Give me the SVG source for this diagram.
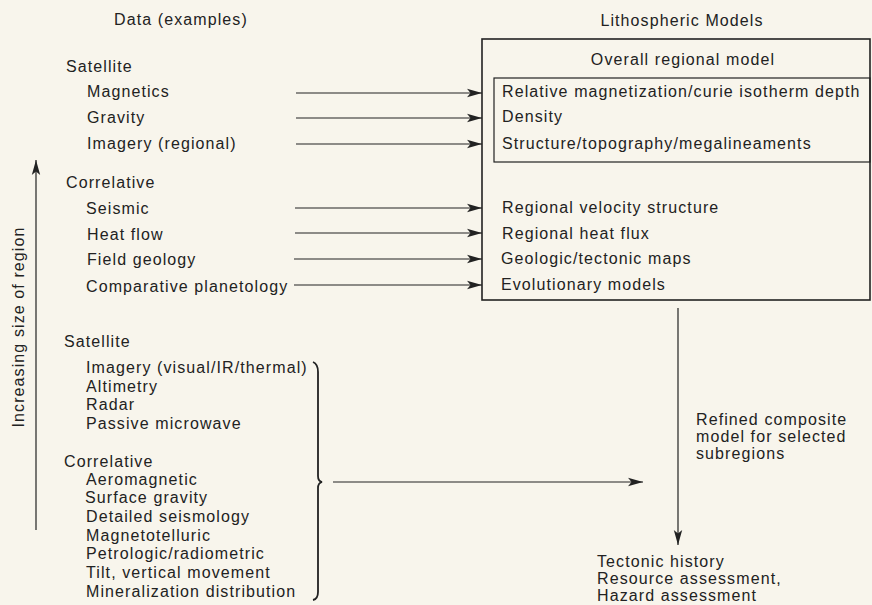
<svg xmlns="http://www.w3.org/2000/svg" width="872" height="605" viewBox="0 0 872 605">
<defs>
<style>
text{font-family:"Liberation Sans",Arial,sans-serif;font-size:16px;fill:#222;letter-spacing:1.1px}
.ln{stroke:#222;stroke-width:1.2;fill:none}
.box{stroke:#222;stroke-width:1.6;fill:none}
</style>
<marker id="ah" markerWidth="15" markerHeight="10" refX="15" refY="5" orient="auto" markerUnits="userSpaceOnUse">
<path d="M0,0.8 L15,5 L0,9.2 L3.5,5 z" fill="#222"/>
</marker>
</defs>
<rect width="872" height="605" fill="#f8f5ec"/>

<g id="data-header"><text x="114" y="25">Data (examples)</text></g>
<g id="models-header"><text x="682" y="26" text-anchor="middle">Lithospheric Models</text></g>

<g id="data-regional">
<text x="66" y="72">Satellite</text>
<text x="87" y="97">Magnetics</text>
<text x="87" y="123">Gravity</text>
<text x="87" y="149">Imagery (regional)</text>
<text x="66" y="188">Correlative</text>
<text x="86" y="214">Seismic</text>
<text x="87" y="240">Heat flow</text>
<text x="87" y="265">Field geology</text>
<text x="86" y="292">Comparative planetology</text>
</g>

<g id="model-box">
<rect class="box" x="482" y="39" width="388" height="261"/>
<text x="683" y="65" text-anchor="middle">Overall regional model</text>
<rect class="box" x="494" y="78" width="376" height="84" style="stroke-width:1.2"/>
<text x="502" y="97">Relative magnetization/curie isotherm depth</text>
<text x="502" y="122">Density</text>
<text x="502" y="149">Structure/topography/megalineaments</text>
<text x="502" y="213">Regional velocity structure</text>
<text x="502" y="239">Regional heat flux</text>
<text x="501" y="264">Geologic/tectonic maps</text>
<text x="501" y="290">Evolutionary models</text>
</g>

<g id="data-local">
<text x="64" y="347">Satellite</text>
<text x="86" y="373">Imagery (visual/IR/thermal)</text>
<text x="86" y="392">Altimetry</text>
<text x="86" y="410">Radar</text>
<text x="86" y="429">Passive microwave</text>
<text x="64" y="467">Correlative</text>
<text x="86" y="485">Aeromagnetic</text>
<text x="85" y="503">Surface gravity</text>
<text x="86" y="522">Detailed seismology</text>
<text x="86" y="541">Magnetotelluric</text>
<text x="86" y="559">Petrologic/radiometric</text>
<text x="86" y="578">Tilt, vertical movement</text>
<text x="86" y="597">Mineralization distribution</text>
</g>

<g id="refined-label">
<text x="696" y="425">Refined composite</text>
<text x="696" y="442">model for selected</text>
<text x="696" y="459">subregions</text>
</g>

<g id="outcomes">
<text x="597" y="567">Tectonic history</text>
<text x="597" y="584">Resource assessment,</text>
<text x="597" y="601">Hazard assessment</text>
</g>

<g id="axis-label">
<text transform="translate(24,327) rotate(-90)" text-anchor="middle">Increasing size of region</text>
</g>

<g id="connectors">
<line class="ln" x1="296" y1="93" x2="482" y2="93" marker-end="url(#ah)"/>
<line class="ln" x1="296" y1="118" x2="482" y2="118" marker-end="url(#ah)"/>
<line class="ln" x1="296" y1="144" x2="482" y2="144" marker-end="url(#ah)"/>
<line class="ln" x1="295" y1="208" x2="482" y2="208" marker-end="url(#ah)"/>
<line class="ln" x1="295" y1="233" x2="482" y2="233" marker-end="url(#ah)"/>
<line class="ln" x1="294" y1="259" x2="482" y2="259" marker-end="url(#ah)"/>
<line class="ln" x1="294" y1="285" x2="482" y2="285" marker-end="url(#ah)"/>
<line class="ln" x1="678" y1="308" x2="678" y2="545" marker-end="url(#ah)"/>
<line class="ln" x1="333" y1="482" x2="643" y2="482" marker-end="url(#ah)"/>
<line class="ln" x1="36" y1="530" x2="36" y2="160" marker-end="url(#ah)"/>
<path class="ln" style="stroke-width:1.8" d="M313,362 Q318,364 318,372 L318,476 Q318,481 322,482 Q318,483 318,488 L318,592 Q318,599 313,600"/>
</g>
</svg>
